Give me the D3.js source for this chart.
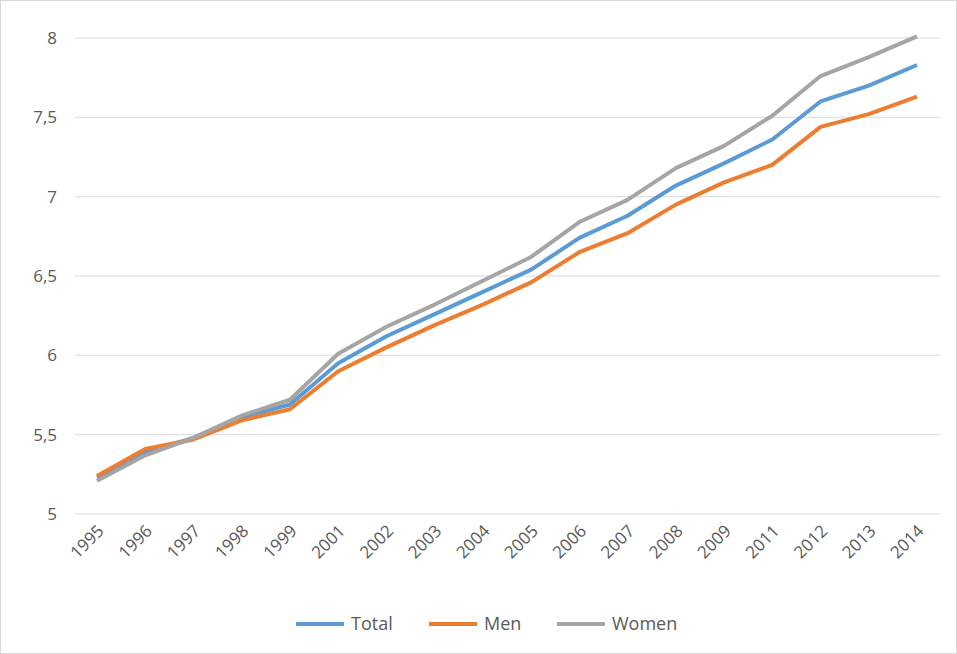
<!DOCTYPE html>
<html><head><meta charset="utf-8">
<script src="https://cdn.jsdelivr.net/npm/d3@7"></script>
<style>body{margin:0;background:#fff}text{font-family:"Open Sans",sans-serif;fill:#595959}</style>
</head><body><svg id="c" width="957" height="654"></svg>
<script>
const years=["1995","1996","1997","1998","1999","2001","2002","2003","2004","2005","2006","2007","2008","2009","2011","2012","2013","2014"];
const total=[5.23,5.39,5.48,5.61,5.69,5.95,6.12,6.26,6.40,6.54,6.74,6.88,7.07,7.21,7.36,7.60,7.70,7.83];
const men=[5.24,5.41,5.47,5.59,5.66,5.90,6.05,6.19,6.32,6.46,6.65,6.77,6.95,7.09,7.20,7.44,7.52,7.63];
const women=[5.21,5.37,5.48,5.62,5.72,6.01,6.18,6.32,6.47,6.62,6.84,6.98,7.18,7.32,7.51,7.76,7.88,8.01];
const yTicks=[5,5.5,6,6.5,7,7.5,8];
const series=[{name:"Total",v:total,c:"#5b9bd5"},{name:"Men",v:men,c:"#ed7d31"},{name:"Women",v:women,c:"#a5a5a5"}];
const svg=d3.select("#c");
svg.append("rect").attr("x",0.5).attr("y",0.5).attr("width",956).attr("height",653).attr("fill","none").attr("stroke","#d9d9d9");
const x=d3.scalePoint().domain(years).range([97,917]);
const y=d3.scaleLinear().domain([5,8]).range([514,38]);
svg.append("g").selectAll("line").data(yTicks).join("line").attr("x1",75).attr("x2",940)
 .attr("y1",d=>y(d)).attr("y2",d=>y(d)).attr("stroke","#d9d9d9");
svg.append("g").selectAll("text").data(yTicks).join("text").attr("x",57).attr("y",d=>y(d)+6)
 .attr("text-anchor","end").attr("font-size",17).text(d=>String(d).replace(".",","));
svg.append("g").selectAll("text").data(years).join("text")
 .attr("transform",d=>`translate(${x(d)+8},${532}) rotate(-45)`).attr("text-anchor","end")
 .attr("font-size",17).text(d=>d);
const line=d3.line().x((d,i)=>x(years[i])).y(d=>y(d));
series.forEach(s=>svg.append("path").attr("d",line(s.v)).attr("fill","none").attr("stroke",s.c).attr("stroke-width",4).attr("stroke-linejoin","round"));
const lx=[296,429,557];
series.forEach((s,i)=>{
 svg.append("line").attr("x1",lx[i]).attr("x2",lx[i]+48).attr("y1",624).attr("y2",624).attr("stroke",s.c).attr("stroke-width",4);
 svg.append("text").attr("x",lx[i]+55).attr("y",630).attr("font-size",18).text(s.name);
});
</script></body></html>
